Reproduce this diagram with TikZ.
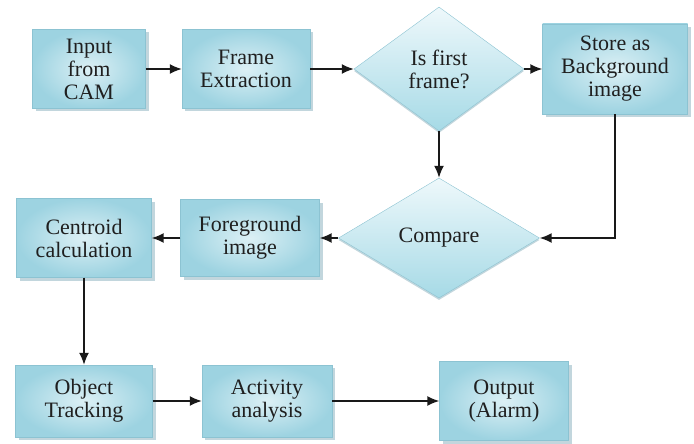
\documentclass[tikz,border=0pt]{standalone}
\usepackage{fontspec}
\setmainfont{Liberation Serif}
\usetikzlibrary{shapes.geometric,arrows.meta,shadows}

\definecolor{boxlight}{HTML}{DCF0F5}
\definecolor{boxdark}{HTML}{9DD3E1}
\definecolor{boxline}{HTML}{8CC3D2}
\definecolor{boxshadow}{HTML}{86AEBB}
\definecolor{dectop}{HTML}{EEF8FB}
\definecolor{decbot}{HTML}{A6DAE6}

\begin{document}
\begin{tikzpicture}[x=1pt,y=1pt,
  blk/.style={rectangle,draw=boxline,inner color=boxlight,outer color=boxdark,align=center,text=black!88,
    font=\rmfamily\fontsize{22}{23}\selectfont,inner sep=2pt,
    drop shadow={shadow xshift=3pt,shadow yshift=-3pt,fill=boxshadow}},
  dec/.style={diamond,draw=boxline,top color=dectop,bottom color=decbot,align=center,text=black!88,
    font=\rmfamily\fontsize{22}{23}\selectfont,inner sep=0pt,
    drop shadow={shadow xshift=0pt,shadow yshift=-2pt,fill=boxshadow}},
  arr/.style={-{Latex[length=12pt,width=10pt]},line width=1.6pt,black!90}]

  \useasboundingbox (0,0) rectangle (694,-444);

  % top row
  \node[blk,minimum width=113,minimum height=79] (input) at (89,-69) {Input\\from\\CAM};
  \node[blk,minimum width=128,minimum height=79] (frame) at (246,-69) {Frame\\Extraction};
  \node[dec,minimum width=170,minimum height=124] (isfirst) at (439,-69) {Is first\\frame?};
  \node[blk,minimum width=145,minimum height=90] (store) at (615,-69) {Store as\\Background\\image};

  % middle row
  \node[blk,minimum width=135,minimum height=79] (centroid) at (84,-238) {Centroid\\calculation};
  \node[blk,minimum width=139,minimum height=77] (foreground) at (250,-238) {Foreground\\image};
  \node[dec,minimum width=201,minimum height=120] (compare) at (439,-238) {Compare};

  % bottom row
  \node[blk,minimum width=137,minimum height=72] (tracking) at (84,-401) {Object\\Tracking};
  \node[blk,minimum width=130,minimum height=72] (activity) at (267,-401) {Activity\\analysis};
  \node[blk,minimum width=129,minimum height=79] (output) at (504,-401) {Output\\(Alarm)};

  \draw[arr] (input) -- (frame);
  \draw[arr] (frame) -- (isfirst);
  \draw[arr] (isfirst) -- (store);
  \draw[arr] (isfirst) -- (compare);
  \draw[arr] (store.south) |- (compare.east);
  \draw[arr] (compare) -- (foreground);
  \draw[arr] (foreground) -- (centroid);
  \draw[arr] (centroid) -- (tracking);
  \draw[arr] (tracking) -- (activity);
  \draw[arr] (activity) -- (output);
\end{tikzpicture}
\end{document}
